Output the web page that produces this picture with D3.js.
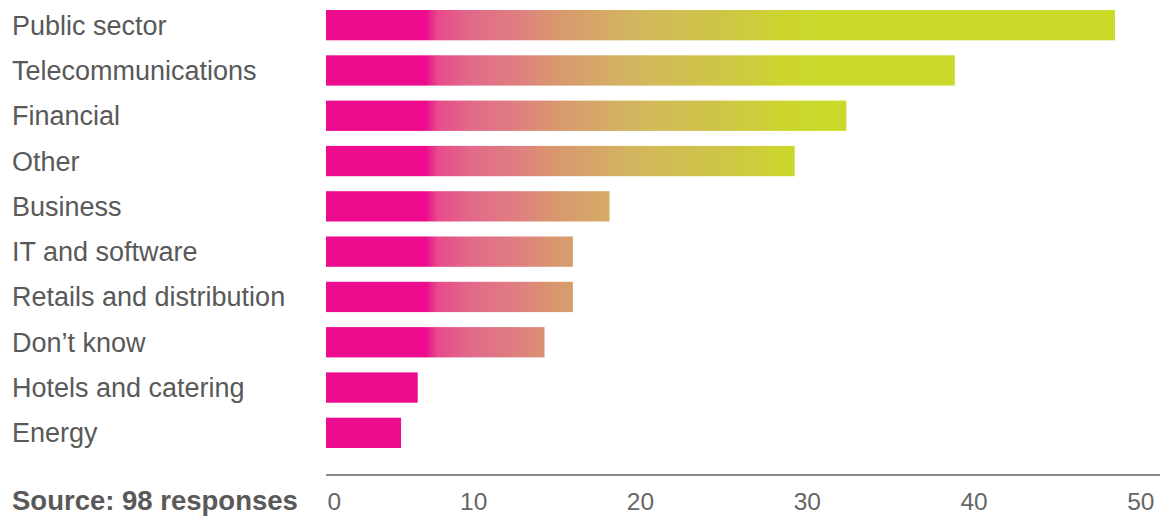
<!DOCTYPE html>
<html>
<head>
<meta charset="utf-8">
<script src="https://cdn.jsdelivr.net/npm/d3@7"></script>
<style>
  html, body { margin: 0; padding: 0; background: #fff; }
  svg { display: block; }
</style>
</head>
<body>
<svg id="chart" width="1163" height="517"></svg>
<script>
// ---- data ----
const categories = [
  "Public sector", "Telecommunications", "Financial", "Other", "Business",
  "IT and software", "Retails and distribution", "Don\u2019t know",
  "Hotels and catering", "Energy"
];
const values = [47.3, 37.7, 31.2, 28.1, 17.0, 14.8, 14.8, 13.1, 5.5, 4.5];
const tickValues = [0, 10, 20, 30, 40, 50];
const sourceNote = "Source: 98 responses";

// ---- layout ----
const W = 1163, H = 517;
const svg = d3.select("#chart");
const font = "'Liberation Sans', Arial, Helvetica, sans-serif";

const x = d3.scaleLinear().domain([0, 50]).range([326, 1160]);
const y = d3.scaleBand().domain(categories).range([10, 448]).paddingInner(0.331).paddingOuter(0);

// gradient in user space (same for all bars)
const defs = svg.append("defs");
const grad = defs.append("linearGradient")
  .attr("id", "barGrad")
  .attr("gradientUnits", "userSpaceOnUse")
  .attr("x1", x(0)).attr("x2", x(50))
  .attr("y1", 0).attr("y2", 0);
const gradStops = [
  [0.0, "#EC0C8D"], [6.0, "#EC0C8D"], [6.3, "#E9288D"], [6.7, "#E84A8A"],
  [8.6, "#E2688A"], [11.6, "#DF8080"], [13.6, "#D9966F"], [15.6, "#D6A36A"],
  [17.6, "#D3B161"], [19.6, "#D2BA58"], [21.6, "#D0C050"], [23.6, "#CEC547"],
  [25.6, "#CDCC3C"], [27.2, "#CCD52F"], [29.6, "#CBD92B"], [50, "#CBDB2A"]
];
grad.selectAll("stop").data(gradStops).enter().append("stop")
  .attr("offset", d => (x(d[0]) - x(0)) / (x(50) - x(0)))
  .attr("stop-color", d => d[1]);

// bars
svg.append("g").selectAll("rect").data(categories).enter().append("rect")
  .attr("x", x(0))
  .attr("y", d => y(d))
  .attr("width", (d, i) => x(values[i]) - x(0))
  .attr("height", y.bandwidth())
  .attr("fill", "url(#barGrad)");

// category labels
svg.append("g").selectAll("text").data(categories).enter().append("text")
  .attr("x", 12)
  .attr("y", d => y(d) + y.bandwidth() / 2 + 9.5)
  .attr("font-family", font)
  .attr("font-size", 27)
  .attr("fill", "#595959")
  .text(d => d);

// x axis
const axis = svg.append("g")
  .attr("transform", "translate(0,475)")
  .call(d3.axisBottom(x).tickValues(tickValues).tickSize(0).tickPadding(0));
axis.select(".domain").attr("stroke", "#8a8a8a").attr("stroke-width", 2)
  .attr("d", `M${x(0)},0H${x(50)}`);
axis.selectAll(".tick text")
  .attr("font-family", font)
  .attr("font-size", 24.5)
  .attr("fill", "#666")
  .attr("dy", null)
  .attr("y", 35)
  .attr("text-anchor", d => d === 0 ? "start" : "end")
  .attr("dx", d => d === 0 ? 1 : -6);

// source note
svg.append("text")
  .attr("x", 12).attr("y", 510)
  .attr("font-family", font)
  .attr("font-size", 27.5)
  .attr("font-weight", "bold")
  .attr("fill", "#595959")
  .text(sourceNote);
</script>
</body>
</html>
